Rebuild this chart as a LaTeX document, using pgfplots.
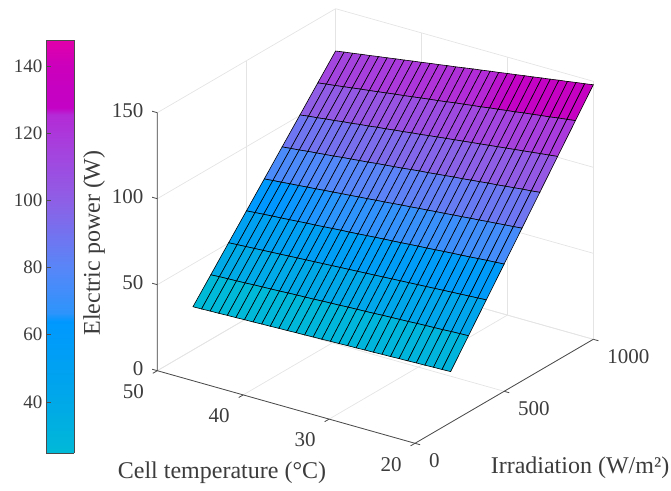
\documentclass[border=0pt]{standalone}
\usepackage{fontspec}
\setmainfont{Liberation Serif}
\usepackage{pgfplots}
\pgfplotsset{compat=1.18}
\definecolor{txt}{RGB}{60,60,60}
\definecolor{axl}{RGB}{75,75,75}
\definecolor{gridc}{RGB}{228,228,228}
\pgfplotsset{
  colormap={panel}{
    rgb255(24.8pt)=(0,185,215);
    rgb255(40pt)=(0,168,232);
    rgb255(64pt)=(0,152,255);
    rgb255(66.5pt)=(45,148,252);
    rgb255(80pt)=(88,134,248);
    rgb255(100pt)=(142,95,230);
    rgb255(115pt)=(165,66,222);
    rgb255(125.5pt)=(180,42,214);
    rgb255(127.5pt)=(195,2,198);
    rgb255(140pt)=(203,0,188);
    rgb255(147.7pt)=(226,0,170)
  },
  /pgf/number format/assume math mode=true,
  /pgf/number format/1000 sep={},
}
\newcommand{\fs}{\fontsize{21}{25}\selectfont}
\newcommand{\fl}{\fontsize{24}{28}\selectfont}
\newcommand{\fc}{\fontsize{19}{23}\selectfont}
\begin{document}
\begin{tikzpicture}[x=1pt,y=1pt]
\useasboundingbox (0,0) rectangle (671,490);
\begin{axis}[
  at={(415pt,46.7pt)}, anchor=origin,
  x dir=reverse,
  x={(8.59pt,-2.42pt)}, y={(0.1783pt,0.104pt)}, z={(0pt,1.72pt)},
  xmin=20,xmax=50,ymin=0,ymax=1000,zmin=0,zmax=150,
  xtick={20,30,40,50}, ytick={0,500,1000}, ztick={0,50,100,150},
  grid=major,
  grid style={gridc,line width=0.7pt},
  axis line style={draw=none},
  major tick length=0pt,
  scaled ticks=false,
  clip=false,
  tick label style={font=\fs,text=txt,inner sep=0pt,outer sep=0pt},
  xticklabel style={anchor=center,xshift=-24pt,yshift=-21pt},
  yticklabel style={anchor=west,xshift=14pt,yshift=-17pt},
  zticklabel style={anchor=east,xshift=-14pt,yshift=2pt},
  point meta min=24.8, point meta max=147.7,
  colormap name=panel,
]
\addplot3[surf, shader=flat corner, draw=black, line width=0.6pt, mesh/rows=9, mesh/cols=31, mesh/ordering=x varies] coordinates {
(20,200,29.6)(21,200,29.4)(22,200,29.3)(23,200,29.1)(24,200,29.0)(25,200,28.8)(26,200,28.7)(27,200,28.5)(28,200,28.4)(29,200,28.2)(30,200,28.1)(31,200,27.9)(32,200,27.8)(33,200,27.6)(34,200,27.5)(35,200,27.3)(36,200,27.2)(37,200,27.0)(38,200,26.9)(39,200,26.7)(40,200,26.6)(41,200,26.4)(42,200,26.3)(43,200,26.1)(44,200,26.0)(45,200,25.8)(46,200,25.7)(47,200,25.5)(48,200,25.4)(49,200,25.2)(50,200,25.1)
(20,300,44.4)(21,300,44.2)(22,300,44.0)(23,300,43.7)(24,300,43.5)(25,300,43.3)(26,300,43.1)(27,300,42.8)(28,300,42.6)(29,300,42.4)(30,300,42.2)(31,300,41.9)(32,300,41.7)(33,300,41.5)(34,300,41.3)(35,300,41.0)(36,300,40.8)(37,300,40.6)(38,300,40.3)(39,300,40.1)(40,300,39.9)(41,300,39.7)(42,300,39.4)(43,300,39.2)(44,300,39.0)(45,300,38.8)(46,300,38.5)(47,300,38.3)(48,300,38.1)(49,300,37.9)(50,300,37.6)
(20,400,59.2)(21,400,58.9)(22,400,58.6)(23,400,58.3)(24,400,58.0)(25,400,57.7)(26,400,57.4)(27,400,57.1)(28,400,56.8)(29,400,56.5)(30,400,56.2)(31,400,55.9)(32,400,55.6)(33,400,55.3)(34,400,55.0)(35,400,54.7)(36,400,54.4)(37,400,54.1)(38,400,53.8)(39,400,53.5)(40,400,53.2)(41,400,52.9)(42,400,52.6)(43,400,52.3)(44,400,52.0)(45,400,51.7)(46,400,51.4)(47,400,51.1)(48,400,50.8)(49,400,50.5)(50,400,50.2)
(20,500,74.0)(21,500,73.6)(22,500,73.3)(23,500,72.9)(24,500,72.5)(25,500,72.1)(26,500,71.8)(27,500,71.4)(28,500,71.0)(29,500,70.6)(30,500,70.3)(31,500,69.9)(32,500,69.5)(33,500,69.1)(34,500,68.8)(35,500,68.4)(36,500,68.0)(37,500,67.6)(38,500,67.2)(39,500,66.9)(40,500,66.5)(41,500,66.1)(42,500,65.7)(43,500,65.4)(44,500,65.0)(45,500,64.6)(46,500,64.2)(47,500,63.9)(48,500,63.5)(49,500,63.1)(50,500,62.7)
(20,600,88.8)(21,600,88.3)(22,600,87.9)(23,600,87.4)(24,600,87.0)(25,600,86.5)(26,600,86.1)(27,600,85.6)(28,600,85.2)(29,600,84.7)(30,600,84.3)(31,600,83.8)(32,600,83.4)(33,600,82.9)(34,600,82.5)(35,600,82.0)(36,600,81.5)(37,600,81.1)(38,600,80.6)(39,600,80.2)(40,600,79.7)(41,600,79.3)(42,600,78.8)(43,600,78.4)(44,600,77.9)(45,600,77.5)(46,600,77.0)(47,600,76.6)(48,600,76.1)(49,600,75.7)(50,600,75.2)
(20,700,103.6)(21,700,103.0)(22,700,102.6)(23,700,102.0)(24,700,101.5)(25,700,100.9)(26,700,100.5)(27,700,99.9)(28,700,99.4)(29,700,98.8)(30,700,98.4)(31,700,97.8)(32,700,97.3)(33,700,96.7)(34,700,96.3)(35,700,95.7)(36,700,95.1)(37,700,94.6)(38,700,94.1)(39,700,93.6)(40,700,93.0)(41,700,92.5)(42,700,92.0)(43,700,91.5)(44,700,90.9)(45,700,90.4)(46,700,89.9)(47,700,89.4)(48,700,88.8)(49,700,88.3)(50,700,87.8)
(20,800,118.4)(21,800,117.8)(22,800,117.2)(23,800,116.6)(24,800,116.0)(25,800,115.4)(26,800,114.8)(27,800,114.2)(28,800,113.6)(29,800,113.0)(30,800,112.4)(31,800,111.8)(32,800,111.2)(33,800,110.6)(34,800,110.0)(35,800,109.4)(36,800,108.7)(37,800,108.2)(38,800,107.5)(39,800,107.0)(40,800,106.3)(41,800,105.8)(42,800,105.1)(43,800,104.6)(44,800,103.9)(45,800,103.4)(46,800,102.7)(47,800,102.2)(48,800,101.5)(49,800,101.0)(50,800,100.3)
(20,900,133.2)(21,900,132.5)(22,900,131.9)(23,900,131.1)(24,900,130.5)(25,900,129.8)(26,900,129.2)(27,900,128.4)(28,900,127.8)(29,900,127.1)(30,900,126.5)(31,900,125.7)(32,900,125.1)(33,900,124.4)(34,900,123.8)(35,900,123.0)(36,900,122.3)(37,900,121.7)(38,900,121.0)(39,900,120.3)(40,900,119.6)(41,900,119.0)(42,900,118.3)(43,900,117.6)(44,900,116.9)(45,900,116.3)(46,900,115.6)(47,900,114.9)(48,900,114.2)(49,900,113.6)(50,900,112.9)
(20,1000,148.0)(21,1000,147.2)(22,1000,146.5)(23,1000,145.7)(24,1000,145.0)(25,1000,144.2)(26,1000,143.5)(27,1000,142.7)(28,1000,142.0)(29,1000,141.2)(30,1000,140.5)(31,1000,139.7)(32,1000,139.0)(33,1000,138.2)(34,1000,137.5)(35,1000,136.7)(36,1000,135.9)(37,1000,135.2)(38,1000,134.4)(39,1000,133.7)(40,1000,132.9)(41,1000,132.2)(42,1000,131.4)(43,1000,130.7)(44,1000,129.9)(45,1000,129.2)(46,1000,128.4)(47,1000,127.7)(48,1000,126.9)(49,1000,126.2)(50,1000,125.4)
};
\draw[axl,line width=0.8pt] (axis cs:50,0,150)--(axis cs:50,0,0)--(axis cs:20,0,0)--(axis cs:20,1000,0);
\foreach \t in {20,30,40,50} {\edef\tmp{\noexpand\draw[axl,line width=0.8pt] (axis cs:\t,0,0)--(axis cs:\t,-25,0);}\tmp}
\foreach \g in {0,500,1000} {\edef\tmp{\noexpand\draw[axl,line width=0.8pt] (axis cs:20,\g,0)--(axis cs:19.4,\g,0);}\tmp}
\foreach \h in {0,50,100,150} {\edef\tmp{\noexpand\draw[axl,line width=0.8pt] (axis cs:50,0,\h)--(axis cs:50.6,0,\h);}\tmp}
\end{axis}
\begin{axis}[
  at={(46pt,37pt)}, anchor=south west,
  scale only axis, width=28pt, height=413pt,
  xmin=0,xmax=1,ymin=24.8,ymax=147.7,
  xtick=\empty, ytick={40,60,80,100,120,140},
  ytick pos=left, ytick align=inside, major tick length=5pt,
  yticklabel pos=left,
  axis line style={draw=axl,line width=0.7pt},
  tick style={axl,line width=0.7pt},
  tick label style={font=\fc,text=txt},
  point meta min=24.8, point meta max=147.7,
  colormap name=panel, view={0}{90},
]
\addplot3[surf,shader=interp,mesh/rows=2,mesh/cols=2] coordinates {(0,24.8,24.8)(1,24.8,24.8)(0,147.7,147.7)(1,147.7,147.7)};
\end{axis}
\node[font=\fl,text=txt] at (222,17) {Cell temperature (°C)};
\node[font=\fl,text=txt] at (580,22) {Irradiation (W/m²)};
\node[font=\fl,text=txt,rotate=90] at (94,247) {Electric power (W)};
\end{tikzpicture}
\end{document}
